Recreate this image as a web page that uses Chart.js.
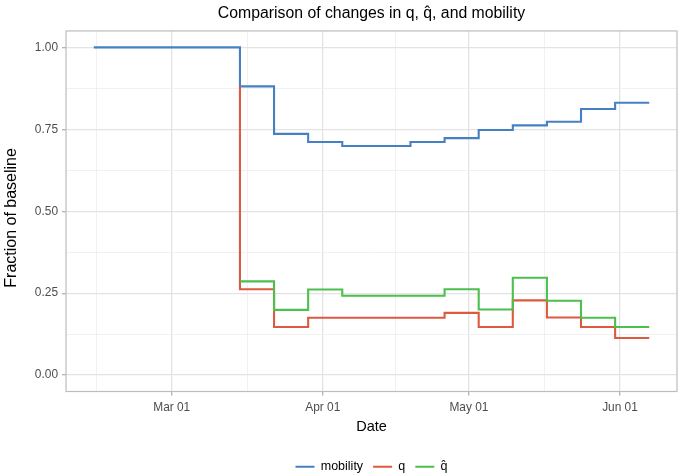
<!DOCTYPE html>
<html><head><meta charset="utf-8">
<script src="https://cdn.jsdelivr.net/npm/chart.js@4.4.1/dist/chart.umd.min.js"></script>
<style>html,body{margin:0;padding:0;background:#fff;overflow:hidden;}canvas{display:block;}</style>
</head><body>
<canvas id="c" width="679" height="483"></canvas>
<script>
// ---- data ----
const mobilityDates = ['2020-02-14','2020-03-15','2020-03-22','2020-03-29','2020-04-05','2020-04-12','2020-04-19','2020-04-26','2020-05-03','2020-05-10','2020-05-17','2020-05-24','2020-05-31','2020-06-07'];
const mobilityValues = [1.000, 0.881, 0.736, 0.711, 0.699, 0.699, 0.711, 0.723, 0.748, 0.762, 0.773, 0.812, 0.831, 0.831];
const qDates = ['2020-03-15','2020-03-15','2020-03-22','2020-03-29','2020-04-05','2020-04-12','2020-04-19','2020-04-26','2020-05-03','2020-05-10','2020-05-17','2020-05-24','2020-05-31','2020-06-07'];
const qValues = [0.881, 0.262, 0.147, 0.175, 0.175, 0.175, 0.175, 0.190, 0.147, 0.228, 0.176, 0.147, 0.113, 0.113];
const qhatDates = ['2020-03-15','2020-03-22','2020-03-29','2020-04-05','2020-04-12','2020-04-19','2020-04-26','2020-05-03','2020-05-10','2020-05-17','2020-05-24','2020-05-31','2020-06-07'];
const qhatValues = [0.286, 0.199, 0.261, 0.242, 0.242, 0.242, 0.262, 0.200, 0.297, 0.227, 0.175, 0.147, 0.147];
const seriesLabels = ['mobility', 'q', 'q\u0302'];
const xTickDates = ['2020-03-01','2020-04-01','2020-05-01','2020-06-01'];
const xTickLabels = ['Mar 01','Apr 01','May 01','Jun 01'];
const yTicks = [0, 0.25, 0.5, 0.75, 1];
const yTickLabels = ['0.00','0.25','0.50','0.75','1.00'];
const yLimits = [0, 1];

// ---- helpers ----
const day = s => Date.UTC(+s.slice(0,4), +s.slice(5,7)-1, +s.slice(8,10)) / 86400000;
const pts = (d, v) => d.map((s, i) => ({x: day(s), y: v[i]}));
const FONT = "'Liberation Sans', Arial, sans-serif";
const BLUE = '#4580C2', RED = '#DC5A40', GREEN = '#4CBF4C';

const allX = [...mobilityDates, ...qDates, ...qhatDates].map(day);
const x0 = Math.min(...allX), x1 = Math.max(...allX);
const xPad = (x1 - x0) * 0.05;
const yPad = (yLimits[1] - yLimits[0]) * 0.05;

const xMajors = xTickDates.map(day);
const xMinors = [xMajors[0] - (xMajors[1] - xMajors[0]) / 2];
for (let i = 0; i < xMajors.length - 1; i++) xMinors.push((xMajors[i] + xMajors[i+1]) / 2);
const yMinors = [];
for (let i = 0; i < yTicks.length - 1; i++) yMinors.push((yTicks[i] + yTicks[i+1]) / 2);

const isMajorX = v => xMajors.indexOf(v) >= 0;
const isMajorY = v => yTicks.indexOf(v) >= 0;

const panelBorder = {
  id: 'panelBorder',
  afterDatasetsDraw(chart) {
    const {ctx, chartArea: a} = chart;
    ctx.save();
    ctx.strokeStyle = '#BDBDBD';
    ctx.lineWidth = 1.2;
    ctx.strokeRect(a.left, a.top, a.right - a.left, a.bottom - a.top);
    ctx.restore();
  }
};

new Chart(document.getElementById('c'), {
  type: 'line',
  data: {
    datasets: [
      {label: seriesLabels[0], data: pts(mobilityDates, mobilityValues), borderColor: BLUE, backgroundColor: BLUE, order: 3},
      {label: seriesLabels[1], data: pts(qDates, qValues), borderColor: RED, backgroundColor: RED, order: 2},
      {label: seriesLabels[2], data: pts(qhatDates, qhatValues), borderColor: GREEN, backgroundColor: GREEN, order: 1}
    ]
  },
  options: {
    responsive: false,
    animation: false,
    datasets: {line: {stepped: 'before', borderWidth: 2.1, pointRadius: 0, pointHoverRadius: 0, fill: false, tension: 0}},
    layout: {padding: {left: 0, right: 2, top: 0, bottom: 0}},
    plugins: {
      title: {display: true, text: 'Comparison of changes in q, q\u0302, and mobility', fullSize: false, color: '#000',
        font: {family: FONT, size: 15.8, weight: 'normal'}, padding: {top: 4.5, bottom: 7.5}},
      legend: {position: 'bottom', fullSize: false,
        labels: {usePointStyle: true, pointStyle: 'line', pointStyleWidth: 19, color: '#000',
          font: {family: FONT, size: 12.5}, padding: 10, sort: (a, b) => a.datasetIndex - b.datasetIndex}},
      tooltip: {enabled: false}
    },
    scales: {
      x: {
        type: 'linear', min: x0 - xPad, max: x1 + xPad,
        afterBuildTicks: s => { s.ticks = [...xMajors, ...xMinors].sort((a, b) => a - b).map(v => ({value: v})); },
        afterFit: s => { s.height = 59; },
        ticks: {autoSkip: false, maxRotation: 0, minRotation: 0, padding: 5, color: '#4D4D4D',
          font: {family: FONT, size: 11.9},
          callback: v => { const i = xMajors.indexOf(v); return i >= 0 ? xTickLabels[i] : ''; }},
        grid: {color: c => isMajorX(c.tick.value) ? '#E3E3E3' : '#EEEEEE',
               lineWidth: c => isMajorX(c.tick.value) ? 1.3 : 0.8,
               tickColor: c => isMajorX(c.tick.value) ? '#B3B3B3' : 'rgba(0,0,0,0)',
               tickLength: 4, drawTicks: true},
        border: {display: false},
        title: {display: true, text: 'Date', color: '#000', font: {family: FONT, size: 14.5}, padding: {top: 0, bottom: 15}}
      },
      y: {
        type: 'linear', min: yLimits[0] - yPad, max: yLimits[1] + yPad,
        afterBuildTicks: s => { s.ticks = [...yTicks, ...yMinors].sort((a, b) => a - b).map(v => ({value: v})); },
        afterFit: s => { s.width = 66; },
        ticks: {autoSkip: false, padding: 4, color: '#4D4D4D', font: {family: FONT, size: 11.9},
          callback: v => { const i = yTicks.indexOf(v); return i >= 0 ? yTickLabels[i] : ''; }},
        grid: {color: c => isMajorY(c.tick.value) ? '#E3E3E3' : '#EEEEEE',
               lineWidth: c => isMajorY(c.tick.value) ? 1.3 : 0.8,
               tickColor: c => isMajorY(c.tick.value) ? '#B3B3B3' : 'rgba(0,0,0,0)',
               tickLength: 4, drawTicks: true},
        border: {display: false},
        title: {display: true, text: 'Fraction of baseline   ', color: '#000', font: {family: FONT, size: 16}, padding: {top: 1.5, bottom: 0}}
      }
    }
  },
  plugins: [panelBorder]
});
</script>
</body></html>
